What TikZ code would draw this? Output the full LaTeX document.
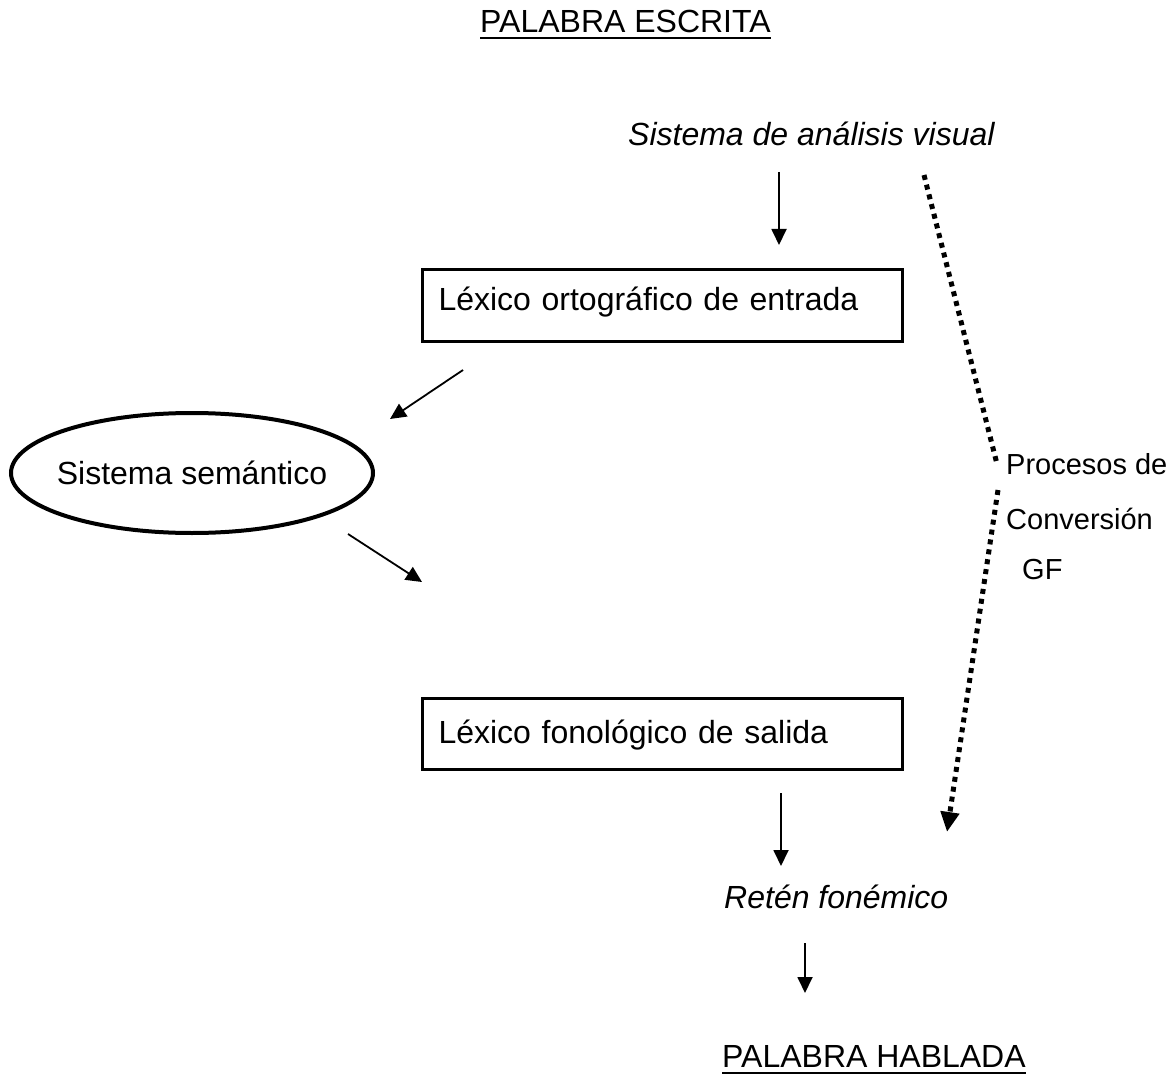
\documentclass[tikz,border=0pt]{standalone}
\usepackage{fontspec}
\setmainfont{Liberation Sans}
\usetikzlibrary{shapes.geometric,arrows.meta}
\begin{document}
\begin{tikzpicture}[x=1pt,y=-1pt,
 txt/.style={inner sep=0pt, font=\fontsize{32}{38}\selectfont, anchor=base west},
 smalltxt/.style={inner sep=0pt, font=\fontsize{29}{34}\selectfont, anchor=base west},
 lexbox/.style={draw, line width=3pt, anchor=north west, inner xsep=16pt, inner ysep=0pt, text width=448pt, align=left, font=\fontsize{32}{38}\selectfont},
 arr/.style={line width=1.8pt, -{Triangle[length=16pt,width=15pt]}},
 dots/.style={line width=5pt, dash pattern=on 5pt off 5pt},
 uline/.style={line width=2pt},
]
\useasboundingbox (0,0) rectangle (1173,1078);

% titles and labels
\node[txt] (pe) at (480,33) {PALABRA ESCRITA};
\draw[uline] ([yshift=-5pt]pe.base west) -- ([yshift=-5pt]pe.base east);
\node[txt, font=\fontsize{32}{38}\selectfont\itshape] (sav) at (628,146) {Sistema de análisis visual};
\node[lexbox, text height=41pt, text depth=31pt] (lo) at (421,268) {Léxico ortográfico de entrada};
\node[ellipse, draw, line width=4pt, minimum width=362pt, minimum height=120pt, inner sep=0pt, font=\fontsize{32}{38}\selectfont] (sem) at (192,473) {\makebox[0pt][c]{Sistema semántico}};
\node[lexbox, text height=45pt, text depth=26pt] (lf) at (421,697) {Léxico fonológico de salida};
\node[txt, font=\fontsize{32}{38}\selectfont\itshape] (rf) at (724,908) {Retén fonémico};
\node[txt] (ph) at (722,1067) {PALABRA HABLADA};
\draw[uline] ([yshift=-6pt]ph.base west) -- ([yshift=-6pt]ph.base east);

\node[smalltxt] (p1) at (1006,474) {Procesos de};
\node[smalltxt] (p2) at (1006,529) {Conversión};
\node[smalltxt] (p3) at (1022,579) {GF};

% arrow end points
\coordinate (a1s) at (779,172); \coordinate (a1e) at (779,245);
\coordinate (a2s) at (463,370); \coordinate (a2e) at (390,419);
\coordinate (a3s) at (348,534); \coordinate (a3e) at (422,582);
\coordinate (a4s) at (781,793); \coordinate (a4e) at (781,866);
\coordinate (a5s) at (805,943); \coordinate (a5e) at (805,993);
\coordinate (d1s) at (924,175); \coordinate (d1e) at (997,464);
\coordinate (d2s) at (998,490); \coordinate (d2e) at (947,832);

\draw[arr] (a1s) -- (a1e);
\draw[arr] (a2s) -- (a2e);
\draw[arr] (a3s) -- (a3e);
\draw[arr] (a4s) -- (a4e);
\draw[arr] (a5s) -- (a5e);
\draw[dots] (d1s) -- (d1e);
\draw[dots, -{Triangle[length=20pt,width=18pt]}] (d2s) -- (d2e);
\end{tikzpicture}
\end{document}
